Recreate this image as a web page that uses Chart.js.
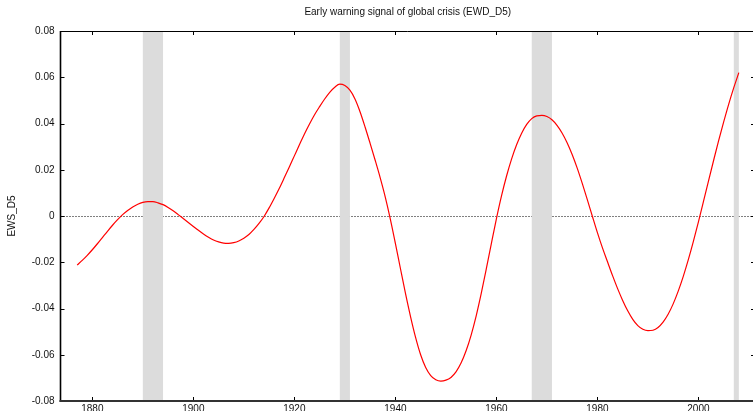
<!DOCTYPE html>
<html>
<head>
<meta charset="utf-8">
<script src="https://cdn.jsdelivr.net/npm/chart.js@4.4.0/dist/chart.umd.min.js"></script>
<style>
  html, body { margin: 0; padding: 0; background: #fff; overflow: hidden; }
  #wrap { position: relative; width: 756px; height: 424px; }
</style>
</head>
<body>
<div id="wrap"><canvas id="c"></canvas></div>
<script>
// Years of the signal
const years = [
  1877, 1878, 1879, 1880, 1881, 1882, 1883, 1884, 1885, 1886,
  1887, 1888, 1889, 1890, 1891, 1892, 1893, 1894, 1895, 1896,
  1897, 1898, 1899, 1900, 1901, 1902, 1903, 1904, 1905, 1906,
  1907, 1908, 1909, 1910, 1911, 1912, 1913, 1914, 1915, 1916,
  1917, 1918, 1919, 1920, 1921, 1922, 1923, 1924, 1925, 1926,
  1927, 1928, 1929, 1930, 1931, 1932, 1933, 1934, 1935, 1936,
  1937, 1938, 1939, 1940, 1941, 1942, 1943, 1944, 1945, 1946,
  1947, 1948, 1949, 1950, 1951, 1952, 1953, 1954, 1955, 1956,
  1957, 1958, 1959, 1960, 1961, 1962, 1963, 1964, 1965, 1966,
  1967, 1968, 1969, 1970, 1971, 1972, 1973, 1974, 1975, 1976,
  1977, 1978, 1979, 1980, 1981, 1982, 1983, 1984, 1985, 1986,
  1987, 1988, 1989, 1990, 1991, 1992, 1993, 1994, 1995, 1996,
  1997, 1998, 1999, 2000, 2001, 2002, 2003, 2004, 2005, 2006,
  2007, 2008
];

// EWS_D5 early warning signal, one value per year
const ews = [
  -0.0212, -0.0192, -0.0170, -0.0146, -0.0120, -0.0093, -0.0066, -0.0040, -0.0016,  0.0006,
   0.0024,  0.0039,  0.0051,  0.0059,  0.0062,  0.0062,  0.0057,  0.0049,  0.0037,  0.0023,
   0.0006, -0.0011, -0.0028, -0.0045, -0.0062, -0.0078, -0.0092, -0.0104, -0.0112, -0.0117,
  -0.0118, -0.0115, -0.0108, -0.0096, -0.0080, -0.0058, -0.0032, -0.0002,  0.0035,  0.0076,
   0.0119,  0.0165,  0.0212,  0.0260,  0.0308,  0.0355,  0.0398,  0.0438,  0.0473,  0.0506,
   0.0535,  0.0557,  0.0570,  0.0564,  0.0544,  0.0506,  0.0451,  0.0385,  0.0314,  0.0241,
   0.0165,  0.0082, -0.0013, -0.0118, -0.0227, -0.0335, -0.0435, -0.0525, -0.0600, -0.0655,
  -0.0690, -0.0708, -0.0714, -0.0710, -0.0698, -0.0674, -0.0636, -0.0583, -0.0515, -0.0432,
  -0.0335, -0.0229, -0.0119, -0.0012,  0.0086,  0.0172,  0.0246,  0.0308,  0.0358,  0.0396,
   0.0421,  0.0433,  0.0435,  0.0430,  0.0416,  0.0392,  0.0359,  0.0317,  0.0266,  0.0207,
   0.0141,  0.0071, -0.0001, -0.0072, -0.0138, -0.0198, -0.0258, -0.0314, -0.0365, -0.0410,
  -0.0447, -0.0474, -0.0490, -0.0496, -0.0494, -0.0482, -0.0459, -0.0425, -0.0380, -0.0325,
  -0.0261, -0.0189, -0.0110, -0.0025,  0.0063,  0.0152,  0.0240,  0.0326,  0.0407,  0.0484,
   0.0555,  0.0620
];

// Global crisis periods (shaded)
const crisisStart = [1890, 1929, 1967, 2007];
const crisisEnd   = [1894, 1931, 1971, 2008];

// Axis ticks
const xTickYears  = [1880, 1900, 1920, 1940, 1960, 1980, 2000];
const yTickValues = [-0.08, -0.06, -0.04, -0.02, 0, 0.02, 0.04, 0.06, 0.08];

const FONT = '"Liberation Sans", Arial, Helvetica, sans-serif';

// Zero line and crisis bands go under the curve; frame and inward ticks on top.
const framePlugin = {
  id: 'frame',
  beforeDatasetsDraw(chart) {
    const { ctx, chartArea: a, scales: { x, y } } = chart;
    ctx.save();
    // dotted zero reference line
    const y0 = Math.round(y.getPixelForValue(0)) + 0.5;
    ctx.strokeStyle = '#000';
    ctx.lineWidth = 1;
    ctx.setLineDash([1, 2]);
    ctx.beginPath();
    ctx.moveTo(a.left, y0);
    ctx.lineTo(a.right, y0);
    ctx.stroke();
    ctx.setLineDash([]);
    // crisis bands
    ctx.fillStyle = '#dcdcdc';
    for (let i = 0; i < crisisStart.length; i++) {
      const x1 = x.getPixelForValue(crisisStart[i]);
      const x2 = x.getPixelForValue(crisisEnd[i]);
      ctx.fillRect(x1, a.top, x2 - x1, a.bottom - a.top);
    }
    ctx.restore();
  },
  afterDatasetsDraw(chart) {
    const { ctx, chartArea: a, scales: { x, y } } = chart;
    const tick = 4;
    ctx.save();
    ctx.strokeStyle = '#000';
    // top border
    ctx.lineWidth = 1;
    ctx.beginPath();
    ctx.moveTo(a.left, a.top + 0.5);
    ctx.lineTo(a.right, a.top + 0.5);
    ctx.stroke();
    // x ticks (top and bottom, pointing inward)
    ctx.beginPath();
    xTickYears.forEach(v => {
      const px = Math.round(x.getPixelForValue(v)) + 0.5;
      ctx.moveTo(px, a.top);
      ctx.lineTo(px, a.top + tick);
      ctx.moveTo(px, a.bottom);
      ctx.lineTo(px, a.bottom - tick);
    });
    // y ticks (left and right, pointing inward)
    yTickValues.forEach(v => {
      const py = Math.round(y.getPixelForValue(v)) + 0.5;
      ctx.moveTo(a.left, py);
      ctx.lineTo(a.left + tick, py);
      ctx.moveTo(a.right, py);
      ctx.lineTo(a.right - tick, py);
    });
    ctx.stroke();
    // left axis
    ctx.lineWidth = 1.6;
    ctx.beginPath();
    ctx.moveTo(a.left, a.top);
    ctx.lineTo(a.left, a.bottom + 1);
    ctx.stroke();
    // bottom axis
    ctx.strokeStyle = '#333';
    ctx.lineWidth = 2;
    ctx.beginPath();
    ctx.moveTo(a.left - 1, a.bottom);
    ctx.lineTo(a.right, a.bottom);
    ctx.stroke();
    ctx.restore();
  }
};

new Chart(document.getElementById('c'), {
  type: 'line',
  data: {
    datasets: [{
      label: 'EWS_D5',
      data: years.map((yr, i) => ({ x: yr, y: ews[i] })),
      borderColor: '#ff0000',
      borderWidth: 1.2,
      pointRadius: 0,
      fill: false,
      cubicInterpolationMode: 'monotone'
    }]
  },
  options: {
    responsive: true,
    maintainAspectRatio: false,
    animation: false,
    layout: { padding: { left: 0, right: 1, top: 0, bottom: 0 } },
    plugins: {
      legend: { display: false },
      tooltip: { enabled: false },
      title: {
        display: true,
        text: 'Early warning signal of global crisis (EWD_D5)',
        fullSize: false,
        color: '#111',
        font: { family: FONT, size: 10, weight: 'normal' },
        padding: { top: 6, bottom: 13 }
      }
    },
    scales: {
      x: {
        type: 'linear',
        min: 1873.7,
        max: 2011.2,
        grid: { display: false, drawTicks: false },
        border: { display: false },
        afterBuildTicks: s => { s.ticks = xTickYears.map(v => ({ value: v })); },
        afterFit: s => { s.height = 23; },
        ticks: {
          padding: 2,
          color: '#111',
          font: { family: FONT, size: 10 },
          maxRotation: 0,
          autoSkip: false,
          callback: v => String(v)
        }
      },
      y: {
        min: -0.08,
        max: 0.08,
        grid: { display: false, drawTicks: false },
        border: { display: false },
        afterBuildTicks: s => { s.ticks = yTickValues.map(v => ({ value: v })); },
        afterFit: s => { s.width = 60.5; },
        title: {
          display: true,
          text: 'EWS_D5',
          color: '#111',
          font: { family: FONT, size: 10 },
          padding: { top: 6, bottom: 0 }
        },
        ticks: {
          padding: 6,
          color: '#111',
          font: { family: FONT, size: 10 },
          callback: v => (Math.abs(v) < 1e-9 ? '0' : v.toFixed(2))
        }
      }
    }
  },
  plugins: [framePlugin]
});
</script>
</body>
</html>
